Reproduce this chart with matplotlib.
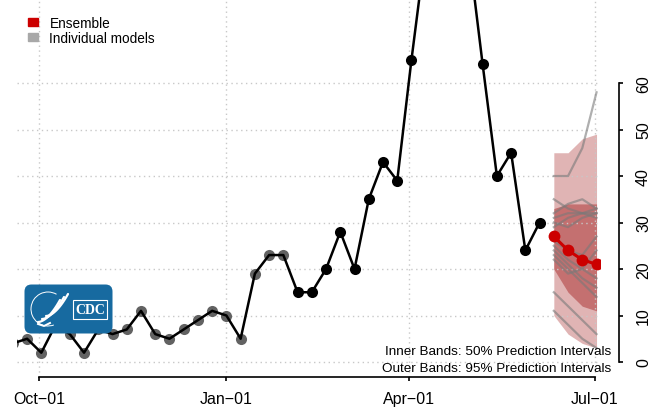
import numpy as np
import pandas as pd
import matplotlib
matplotlib.use('Agg')
import matplotlib.pyplot as plt
import matplotlib.dates as mdates
from matplotlib.patches import Patch, FancyBboxPatch, Arc, Rectangle

plt.rcParams['font.family'] = ['Liberation Sans', 'DejaVu Sans']

# weekly observed counts (week ending Saturday)
obs_start = '2021-09-18'
obs_values = [4, 5, 2, 8, 6, 2, 7, 6, 7, 11, 6, 5, 7, 9, 11, 10, 5, 19, 23, 23,
              15, 15, 20, 28, 20, 35, 43, 39, 65, 89, 102, 97, 89, 64, 40, 45, 24, 30]
n_older = 20  # earlier points are drawn in grey

# ensemble forecast, 1-4 weeks ahead
fc_start = '2022-06-11'
ens_median = [27, 24, 22, 21]
ens_lo95 = [10, 6, 4, 3]
ens_hi95 = [45, 45, 48, 49]
ens_lo50 = [20, 15, 12, 11]
ens_hi50 = [33, 34, 34, 34]

# individual model medians
model_lines = [
    [40, 40, 46, 58],
    [35, 33, 32, 31],
    [32, 34, 35, 33],
    [31, 32, 32, 32],
    [29, 31, 32, 33],
    [30, 29, 31, 32],
    [26, 24, 23, 27],
    [25, 22, 20, 18],
    [24, 21, 18, 16],
    [23, 20, 17, 14],
    [22, 19, 20, 24],
    [15, 12, 9, 6],
    [11, 8, 5, 3],
]

tick_dates = ['2021-10-01', '2022-01-01', '2022-04-01', '2022-07-01']
tick_labels = ['Oct\u221201', 'Jan\u221201', 'Apr\u221201', 'Jul\u221201']
y_ticks = [0, 10, 20, 30, 40, 50, 60]

obs_dates = pd.date_range(obs_start, periods=len(obs_values), freq='7D')
fc_dates = pd.date_range(fc_start, periods=len(ens_median), freq='7D')
tick_num = mdates.date2num(pd.to_datetime(tick_dates))

W, H = 653, 410
fig = plt.figure(figsize=(W / 100, H / 100), dpi=100)
ax = fig.add_axes([17 / W, 1 - 378 / H, (600 - 17) / W, 378 / H])

# x scale: Oct-01 at px 39.3, Jul-01 at px 594.5
ppd = (594.5 - 39.3) / (tick_num[3] - tick_num[0])
ax.set_xlim(tick_num[0] - (39.3 - 17) / ppd, tick_num[0] + (600 - 39.3) / ppd)
ax.set_ylim((363 - 378) / 4.65, 363 / 4.65)

ax.grid(True, color='#c8c8c8', linestyle=(0, (1, 2.5)), linewidth=1)
ax.set_axisbelow(True)

# prediction bands
ax.fill_between(fc_dates, ens_lo95, ens_hi95, color='#e0b4b4', lw=0, zorder=0.3)
ax.fill_between(fc_dates, ens_lo50, ens_hi50, color='#c47070', lw=0, zorder=0.4)

for m in model_lines:
    ax.plot(fc_dates, m, color='#7a7a7a', alpha=0.6, lw=1.6, zorder=1)

# observed data
ax.plot(obs_dates[:n_older], obs_values[:n_older], 'o', color='#626262', ms=8,
        mec='none', zorder=2.5)
ax.plot(obs_dates, obs_values, color='black', lw=1.8, zorder=3)
ax.plot(obs_dates[n_older:], obs_values[n_older:], 'o', color='black', ms=8,
        mec='none', zorder=4)

# ensemble median
ax.plot(fc_dates, ens_median, '-o', color='#cc0000', lw=2.2, ms=8.5, mec='none', zorder=5)

# axes styling
for s in ['top', 'left']:
    ax.spines[s].set_visible(False)
ax.spines['right'].set_position(('outward', 14))
ax.spines['right'].set_bounds(0, 60)
ax.spines['bottom'].set_bounds(tick_num[0], tick_num[3])
ax.spines['right'].set_linewidth(1.2)
ax.spines['bottom'].set_linewidth(1.2)

ax.set_xticks(tick_num)
ax.set_xticklabels(tick_labels)
ax.set_yticks(y_ticks)
ax.yaxis.set_ticks_position('right')
ax.tick_params(axis='x', direction='out', length=3, width=1.2, labelsize=11.5, pad=7)
ax.tick_params(axis='y', direction='out', length=3, width=1.2, labelsize=11.5, pad=9,
               labelrotation=90)
for lab in ax.get_yticklabels():
    lab.set_va('center')

# legend
handles = [Patch(color='#cc0000'), Patch(color='#a8a8a8')]
fig.legend(handles, ['Ensemble', 'Individual models'], loc='upper left',
           bbox_to_anchor=(27.7 / W, 1 - 16.5 / H), frameon=False, fontsize=9.8,
           borderpad=0, borderaxespad=0, handlelength=0.75, handleheight=0.55,
           handletextpad=0.85, labelspacing=0.12)

fig.text(611 / W, 1 - 352 / H, 'Inner Bands: 50% Prediction Intervals',
         ha='right', va='center', fontsize=9.7)
fig.text(611 / W, 1 - 369 / H, 'Outer Bands: 95% Prediction Intervals',
         ha='right', va='center', fontsize=9.7)

# CDC logo (drawn in pixel units)
lax = fig.add_axes([24 / W, 1 - 335 / H, 89 / W, 50 / H])
lax.set_xlim(0, 89)
lax.set_ylim(0, 50)
lax.axis('off')
lax.add_patch(FancyBboxPatch((0.5, 0.5), 88, 49, boxstyle='round,pad=0,rounding_size=7',
                             fc='#176aa0', ec='none'))
lax.add_patch(Arc((24, 25), 34, 34, theta1=60, theta2=290, color='white', lw=0.7))
t = np.linspace(0, 1, 30)
for dx, dy in [(0, 0), (4, 3), (8, 6)]:
    lax.plot(14 + dx + 22 * t, 12 + dy + 22 * t ** 1.8, color='white', lw=1.6,
             solid_capstyle='round')
lax.plot([14, 20, 26], [10, 8, 11], color='white', lw=1.4)
lax.add_patch(Rectangle((49, 15), 34, 19, fill=False, ec='white', lw=0.8))
lax.text(66, 24.5, 'CDC', color='white', fontsize=10, fontweight='bold',
         family='Liberation Serif', ha='center', va='center')

fig.savefig('out.png', dpi=100)
